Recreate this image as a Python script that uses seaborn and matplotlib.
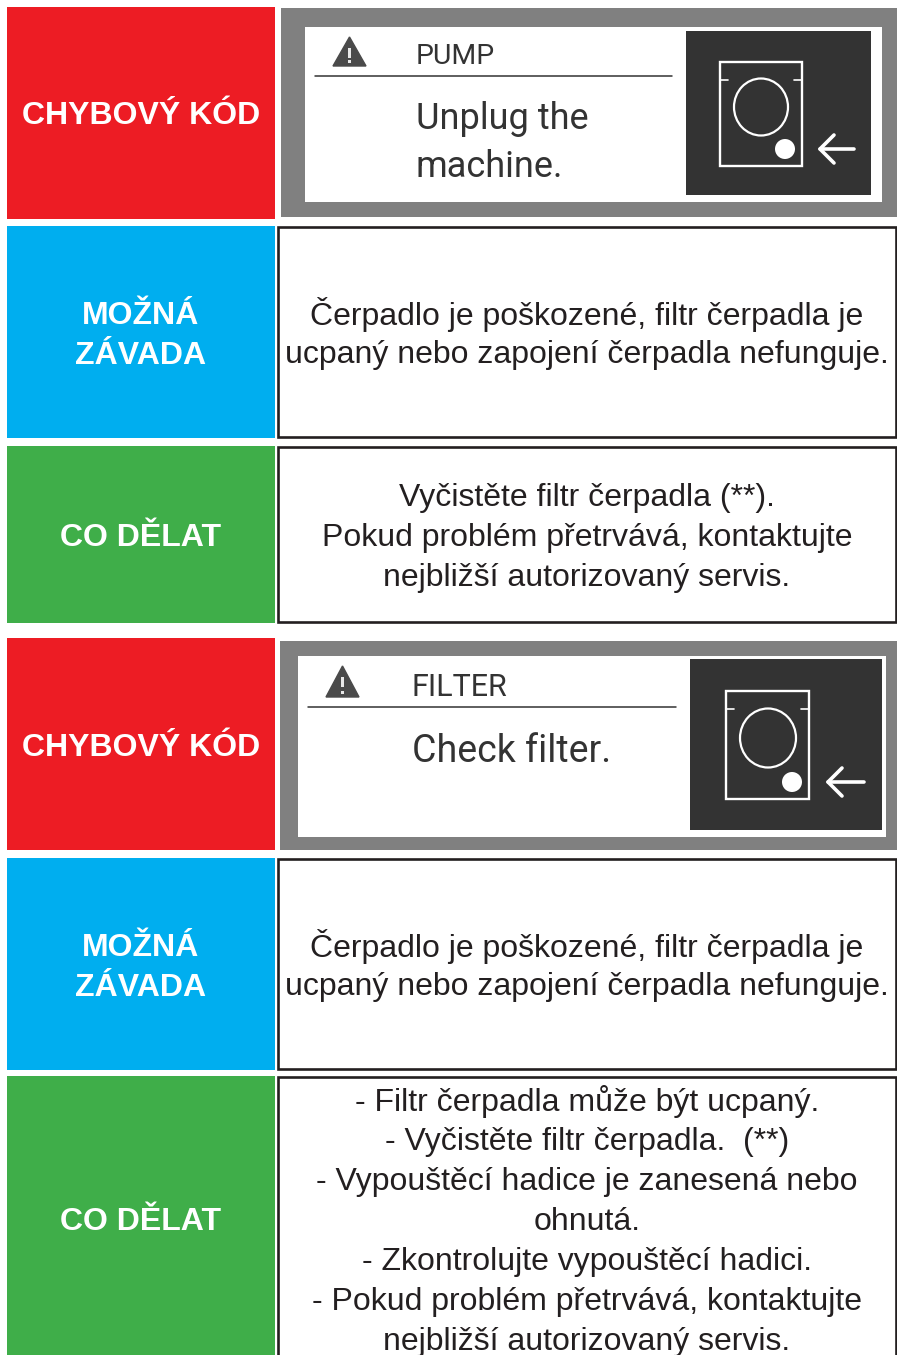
import matplotlib
matplotlib.use('Agg')
import matplotlib.pyplot as plt
import matplotlib.patches as mp
import seaborn as sns

sns.set_theme(style='white')
plt.rcParams['font.family'] = ['Liberation Sans', 'DejaVu Sans']

# texts of the table
row_labels = [['CHYBOVÝ KÓD'], ['MOŽNÁ', 'ZÁVADA'], ['CO DĚLAT'],
              ['CHYBOVÝ KÓD'], ['MOŽNÁ', 'ZÁVADA'], ['CO DĚLAT']]
fault_lines = ['Čerpadlo je poškozené, filtr čerpadla je',
               'ucpaný nebo zapojení čerpadla nefunguje.']
todo_lines = ['Vyčistěte filtr čerpadla (**).',
              'Pokud problém přetrvává, kontaktujte',
              'nejbližší autorizovaný servis.']
last_lines = ['- Filtr čerpadla může být ucpaný.',
              '- Vyčistěte filtr čerpadla.  (**)',
              '- Vypouštěcí hadice je zanesená nebo',
              'ohnutá.',
              '- Zkontrolujte vypouštěcí hadici.',
              '- Pokud problém přetrvává, kontaktujte',
              'nejbližší autorizovaný servis.']
screen_titles = ['PUMP', 'FILTER']
screen_msgs = [['Unplug the', 'machine.'], ['Check filter.']]

# layout in pixels
row_top = [7, 226, 446, 638, 858, 1076]
row_bot = [219, 438, 623, 850, 1070, 1355]
row_col = ['#ed1c24', '#00aeef', '#3fae49', '#ed1c24', '#00aeef', '#3fae49']
label_y = [112.5, 313, 535, 744.5, 945, 1218]

fig = plt.figure(figsize=(8.97, 13.55), dpi=100, facecolor='white')
ax = fig.add_axes([0, 0, 1, 1])

for lab, t, b, c, y in zip(row_labels, row_top, row_bot, row_col, label_y):
    sns.barplot(x=[268], y=[(t + b) / 2], orient='h', native_scale=True, width=b - t,
                left=7, color=c, saturation=1, linewidth=0, ax=ax)
    for i, line in enumerate(lab):
        ax.text(141, y + i * 39.5, line, color='white', fontsize=23, fontweight='bold',
                ha='center', va='center_baseline')

ax.set_xlim(0, 897)
ax.set_ylim(1355, 0)
ax.axis('off')


def box(t, b):
    ax.add_patch(mp.Rectangle((278, t), 618, b - t, fc='white', ec='#231f20', lw=1.9, zorder=3))


def lines(rows, y0, step=40):
    for i, line in enumerate(rows):
        ax.text(587, y0 + i * step, line, color='#231f20', fontsize=23, ha='center',
                va='center_baseline', zorder=4)


box(227, 437)
box(447, 622)
box(859, 1069)
box(1077, 1365)
lines(fault_lines, 311)
lines(todo_lines, 494.5)
lines(fault_lines, 943)
lines(last_lines, 1098.5)


def washer(x0, x1, y0, y1, cx, cy, r, dx, dy, ax0, ax1):
    ax.add_patch(mp.Rectangle((x0, y0), x1 - x0, y1 - y0, fc='none', ec='white', lw=1.7, zorder=6))
    ax.plot([x0, x0 + 8], [y0 + 18, y0 + 18], color='white', lw=1.2, zorder=6)
    ax.plot([x1 - 8, x1], [y0 + 18, y0 + 18], color='white', lw=1.2, zorder=6)
    ax.add_patch(mp.Ellipse((cx, cy), 2 * r, 2 * r + 3, fc='none', ec='white', lw=1.6, zorder=6))
    ax.add_patch(mp.Circle((dx, dy), 10, fc='white', ec='none', zorder=6))
    ax.plot([ax0, ax1], [dy, dy], color='white', lw=2.6, zorder=6)
    ax.plot([ax0 + 14, ax0, ax0 + 14], [dy - 14, dy, dy + 14], color='white', lw=2.6, zorder=6)


def warn(x0, x1, y0, y1):
    ax.add_patch(mp.Polygon([(x0, y1), ((x0 + x1) / 2, y0), (x1, y1)], fc='#4a4a4a', ec='#4a4a4a',
                            lw=1, zorder=6))
    mx = (x0 + x1) / 2
    ax.add_patch(mp.Rectangle((mx - 1.2, y0 + 11), 2.4, 10, fc='#e8e8e8', ec='none', zorder=7))
    ax.add_patch(mp.Rectangle((mx - 1.2, y1 - 6), 2.4, 3, fc='#e8e8e8', ec='none', zorder=7))


txt = '#333333'
# first screen
ax.add_patch(mp.Rectangle((281, 8), 616, 209, fc='#808080', ec='none', zorder=4))
ax.add_patch(mp.Rectangle((305, 27), 577, 175, fc='white', ec='none', zorder=5))
ax.add_patch(mp.Rectangle((686, 31), 185, 164, fc='#333333', ec='none', zorder=5))
warn(333, 366, 37, 66)
ax.plot([315, 672], [76, 76], color=txt, lw=1.1, zorder=6)
ax.text(416, 53, screen_titles[0], family='Roboto', color=txt, fontsize=20.5, va='center_baseline', zorder=6)
for j, line in enumerate(screen_msgs[0]):
    ax.text(416, 115 + j * 48, line, family='Roboto', color=txt, fontsize=26, va='center_baseline', zorder=6)
washer(720, 802, 62, 166, 761, 107, 27, 785, 149, 820, 854)

# second screen
ax.add_patch(mp.Rectangle((280, 641), 617, 209, fc='#808080', ec='none', zorder=4))
ax.add_patch(mp.Rectangle((298, 656), 588, 181, fc='white', ec='none', zorder=5))
ax.add_patch(mp.Rectangle((690, 659), 192, 171, fc='#333333', ec='none', zorder=5))
warn(326, 359, 666, 697)
ax.plot([308, 676], [707, 707], color=txt, lw=1.1, zorder=6)
ax.text(412, 684, screen_titles[1], family='Roboto', color=txt, fontsize=22, va='center_baseline', zorder=6)
ax.text(412, 747, screen_msgs[1][0], family='Roboto', color=txt, fontsize=27, va='center_baseline', zorder=6)
washer(726, 809, 691, 799, 768, 738, 28, 792, 782, 828, 864)

fig.savefig('out.png', dpi=100)
